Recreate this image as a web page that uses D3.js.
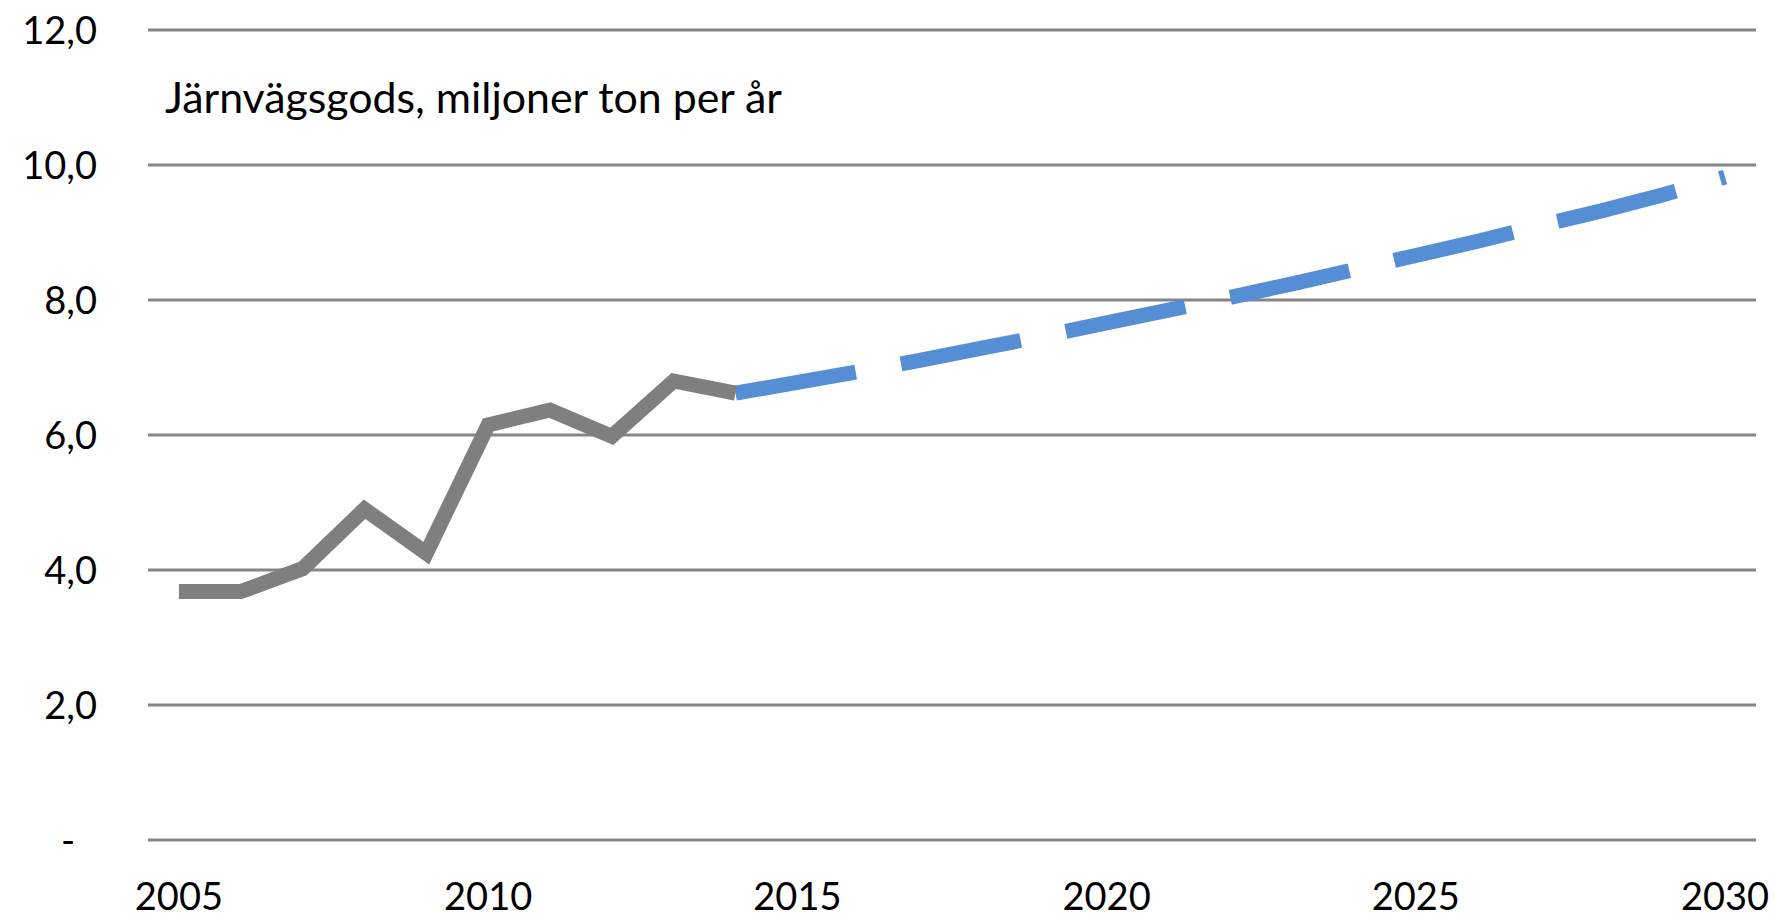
<!DOCTYPE html>
<html>
<head>
<meta charset="utf-8">
<script src="https://cdn.jsdelivr.net/npm/d3@7"></script>
<style>
    html, body { margin: 0; padding: 0; background: #fff; }
    svg text { font-family: Lato, "Open Sans", sans-serif; fill: #000; }
</style>
</head>
<body>
<div id="chart"></div>
<script>
// historik, miljoner ton
var histYears = [2005, 2006, 2007, 2008, 2009, 2010, 2011, 2012, 2013, 2014];
var histValues = [3.68, 3.68, 4.02, 4.9, 4.25, 6.15, 6.37, 5.98, 6.8, 6.62];

// prognos
var progYears = [2014, 2015, 2016, 2017, 2018, 2019, 2020, 2021, 2022, 2023, 2024, 2025, 2026, 2027, 2028, 2029, 2030];
var progValues = [6.62, 6.78, 6.94, 7.11, 7.29, 7.47, 7.66, 7.85, 8.04, 8.24, 8.45, 8.66, 8.87, 9.1, 9.32, 9.56, 9.82];

var yTicks = [0, 2, 4, 6, 8, 10, 12];
var xTicks = [2005, 2010, 2015, 2020, 2025, 2030];
var title = 'Järnvägsgods, miljoner ton per år';

function drawChart() {
    var w = 1775;
    var h = 917;
    var left = 148, right = 1756;

    var svg = d3.select('#chart').append('svg').attr('width', w).attr('height', h);

    // 26 kategorier, punkten i mitten
    var step = (right - left) / 26;
    var x = d3.scaleLinear().domain([2005, 2030]).range([left + step / 2, right - step / 2]);
    var y = d3.scaleLinear().domain([0, 12]).range([840, 30]);

    // stödlinjer
    svg.append('g').selectAll('line').data(yTicks).enter().append('line')
        .attr('x1', left).attr('x2', right)
        .attr('y1', function (d) { return y(d); })
        .attr('y2', function (d) { return y(d); })
        .attr('stroke', '#868686').attr('stroke-width', 2.8);

    // y-etiketter
    svg.append('g').selectAll('text').data(yTicks).enter().append('text')
        .attr('x', function (d) { return d == 0 ? 75 : 97; })
        .attr('y', function (d) { return y(d); })
        .attr('dy', '0.36em')
        .attr('text-anchor', 'end')
        .style('font-size', '38px')
        .text(function (d) { return d == 0 ? '-' : d.toFixed(1).replace('.', ','); });

    // x-etiketter
    svg.append('g').selectAll('text').data(xTicks).enter().append('text')
        .attr('x', function (d) { return x(d); })
        .attr('y', 910)
        .attr('text-anchor', 'middle')
        .style('font-size', '38px')
        .text(function (d) { return d; });

    var line = d3.line()
        .x(function (d) { return x(d[0]); })
        .y(function (d) { return y(d[1]); });

    svg.append('path')
        .datum(d3.zip(progYears, progValues))
        .attr('d', line)
        .attr('fill', 'none')
        .attr('stroke', '#558ed5')
        .attr('stroke-width', 15)
        .attr('stroke-dasharray', '122,46');

    svg.append('path')
        .datum(d3.zip(histYears, histValues))
        .attr('d', line)
        .attr('fill', 'none')
        .attr('stroke', '#7f7f7f')
        .attr('stroke-width', 15)
        .attr('stroke-linejoin', 'miter');

    var t = svg.append('text')
        .attr('x', 165)
        .attr('y', 113)
        .style('font-size', '38px')
        .text(title);
    // anpassa bredden till originalet
    var len = t.node().getComputedTextLength();
    t.style('font-size', (38 * 617 / len) + 'px');
}

drawChart();
</script>
</body>
</html>
